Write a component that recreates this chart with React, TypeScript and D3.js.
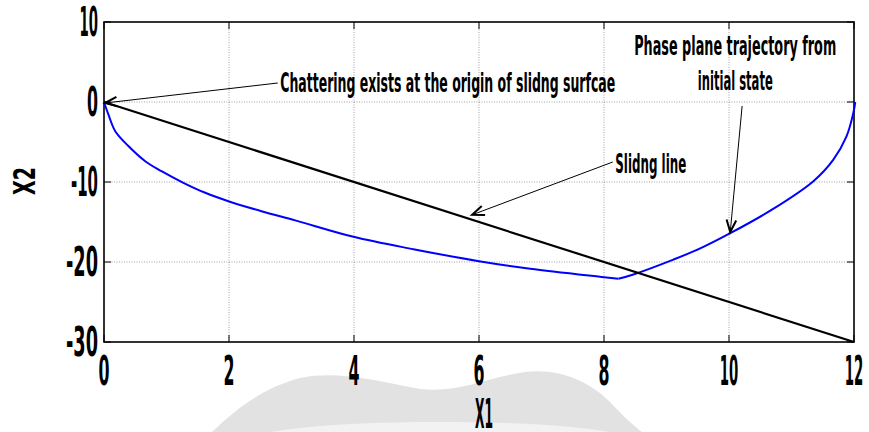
import React from "react";
import * as d3 from "d3";

const xTicks = [0, 2, 4, 6, 8, 10, 12];
const yTicks = [10, 0, -10, -20, -30];
const xGrid = [2, 4, 6, 8, 10];
const yGrid = [0, -10, -20];

// phase plane trajectory (starts at initial state (12,0)); index 10 is the kink where it hits the sliding line
const trajX = [12.02, 11.99, 11.88, 11.67, 11.35, 10.7, 10.02, 9.54, 9.11, 8.47, 8.23, 8.0, 6.82, 6.0, 4.95, 3.99, 3.06, 2.52, 1.99, 1.62, 1.27, 0.92, 0.66, 0.39, 0.18, 0.07, 0.0];
const trajY = [0, -1.35, -4.3, -7.2, -9.9, -13.4, -16.4, -18.3, -19.7, -21.56, -22.1, -21.9, -20.85, -19.9, -18.4, -16.85, -14.8, -13.65, -12.4, -11.35, -10.1, -8.65, -7.4, -5.5, -3.65, -1.56, 0];
const kinkIndex = 10;

// sliding line x2 = -2.5 x1
const slideX = [0, 12];
const slideY = [0, -30];

const annTexts = ["Chattering exists at the origin of slidng surfcae", "Slidng line", "Phase plane trajectory from", "initial state"];
const annTextX = [2.82, 8.18, 10.1, 10.1];
const annTextY = [1.25, -8.875, 5.9, 1.5];
const annTextLen = [335, 71, 202, 75];
const annAnchor = ["start", "start", "middle", "middle"];

const arrowFromX = [2.78, 8.14, 10.21];
const arrowFromY = [2.375, -7.5, -0.5];
const arrowToX = [0.016, 5.89, 10.02];
const arrowToY = [-0.125, -14.1, -16.25];

const W = 869, H = 432;
const FONT = "'Liberation Sans Narrow', 'DejaVu Sans Condensed', 'Arial Narrow', sans-serif";

function labelWidth(s: string) {
  let w = 0;
  for (let i = 0; i < s.length; i++) {
    const c = s[i];
    w += c === "1" ? 6 : c === "-" ? 7 : 11;
    if (i > 0) w += 1.5;
  }
  return w;
}

export default function App() {
  const x = d3.scaleLinear().domain([0, 12]).range([104, 854]);
  const y = d3.scaleLinear().domain([-30, 10]).range([342, 22]);

  const line = d3.line<number>().x((i) => x(trajX[i])).y((i) => y(trajY[i])).curve(d3.curveCatmullRom.alpha(0.5));
  const idx = trajX.map((_, i) => i);
  const trajPath1 = line(idx.slice(0, kinkIndex + 1)) || "";
  const trajPath2 = line(idx.slice(kinkIndex)) || "";
  const slidePath = d3.line<number>().x((i) => x(slideX[i])).y((i) => y(slideY[i]))([0, 1]) || "";

  const watermark = "M212,432 C235,410 262,388 300,378 C340,370 380,382 420,389 C460,393 485,378 525,372 C560,368 590,382 610,402 C625,418 634,426 642,432 Z";

  return (
    <svg width={W} height={H} style={{ position: "absolute", left: 0, top: 0, background: "#fff" }}>
      <rect x={0} y={0} width={W} height={H} fill="#fff" />
      <path d={watermark} fill="#e2e2e2" />
      <path d="M270,432 C320,424 380,422 440,422 C520,422 575,426 610,432 Z" fill="#f2f2f2" />
      {/* grid */}
      {xGrid.map((v) => (
        <line key={"gx" + v} x1={x(v)} x2={x(v)} y1={y(10)} y2={y(-30)} stroke="#8a8a8a" strokeWidth={0.8} strokeDasharray="1,1.5" />
      ))}
      {yGrid.map((v) => (
        <line key={"gy" + v} x1={x(0)} x2={x(12)} y1={y(v)} y2={y(v)} stroke="#8a8a8a" strokeWidth={0.8} strokeDasharray="1,1.5" />
      ))}
      {/* ticks */}
      {xTicks.map((v) => (
        <g key={"tx" + v}>
          <line x1={x(v)} x2={x(v)} y1={y(-30)} y2={y(-30) - 7} stroke="#000" strokeWidth={1} />
          <line x1={x(v)} x2={x(v)} y1={y(10)} y2={y(10) + 7} stroke="#000" strokeWidth={1} />
        </g>
      ))}
      {yTicks.map((v) => (
        <g key={"ty" + v}>
          <line x1={x(0)} x2={x(0) + 7} y1={y(v)} y2={y(v)} stroke="#000" strokeWidth={1} />
          <line x1={x(12)} x2={x(12) - 7} y1={y(v)} y2={y(v)} stroke="#000" strokeWidth={1} />
        </g>
      ))}
      {/* box */}
      <rect x={x(0)} y={y(10)} width={x(12) - x(0)} height={y(-30) - y(10)} fill="none" stroke="#000" strokeWidth={1.6} />
      {/* data */}
      <path d={trajPath1} fill="none" stroke="#0000ff" strokeWidth={2} strokeLinejoin="round" />
      <path d={trajPath2} fill="none" stroke="#0000ff" strokeWidth={2} strokeLinejoin="round" />
      <path d={slidePath} fill="none" stroke="#000" strokeWidth={2.2} />
      {/* annotations */}
      {arrowFromX.map((_, i) => {
        const x1 = x(arrowFromX[i]), y1 = y(arrowFromY[i]);
        const x2 = x(arrowToX[i]), y2 = y(arrowToY[i]);
        const ang = Math.atan2(y1 - y2, x1 - x2);
        const L = 13, a = 0.38;
        const h1 = [x2 + L * Math.cos(ang + a), y2 + L * Math.sin(ang + a)];
        const h2 = [x2 + L * Math.cos(ang - a), y2 + L * Math.sin(ang - a)];
        return (
          <g key={"ar" + i}>
            <line x1={x1} y1={y1} x2={x2} y2={y2} stroke="#000" strokeWidth={1} />
            <path d={`M${h1[0]},${h1[1]} L${x2},${y2} L${h2[0]},${h2[1]}`} fill="none" stroke="#000" strokeWidth={2} />
          </g>
        );
      })}
      {annTexts.map((t, i) => (
        <text key={"at" + i} x={x(annTextX[i])} y={y(annTextY[i])} fontFamily={FONT} fontWeight="bold" fontSize={26}
          textAnchor={annAnchor[i]} textLength={annTextLen[i]} lengthAdjust="spacingAndGlyphs">{t}</text>
      ))}
      {/* tick labels */}
      {xTicks.map((v) => (
        <text key={"lx" + v} x={x(v)} y={385} fontFamily={FONT} fontWeight="bold" fontSize={40} textAnchor="middle"
          textLength={labelWidth(String(v))} lengthAdjust="spacingAndGlyphs">{String(v)}</text>
      ))}
      {yTicks.map((v) => (
        <text key={"ly" + v} x={98} y={y(v) + 14} fontFamily={FONT} fontWeight="bold" fontSize={40} textAnchor="end"
          textLength={labelWidth(String(v))} lengthAdjust="spacingAndGlyphs">{String(v)}</text>
      ))}
      {/* axis labels */}
      <text x={484} y={428} fontFamily={FONT} fontWeight="bold" fontSize={40} textAnchor="middle" textLength={18} lengthAdjust="spacingAndGlyphs">X1</text>
      <text transform="translate(35,181) rotate(-90)" fontFamily={FONT} fontWeight="bold" fontSize={30} textAnchor="middle" textLength={28} lengthAdjust="spacingAndGlyphs">X2</text>
    </svg>
  );
}
